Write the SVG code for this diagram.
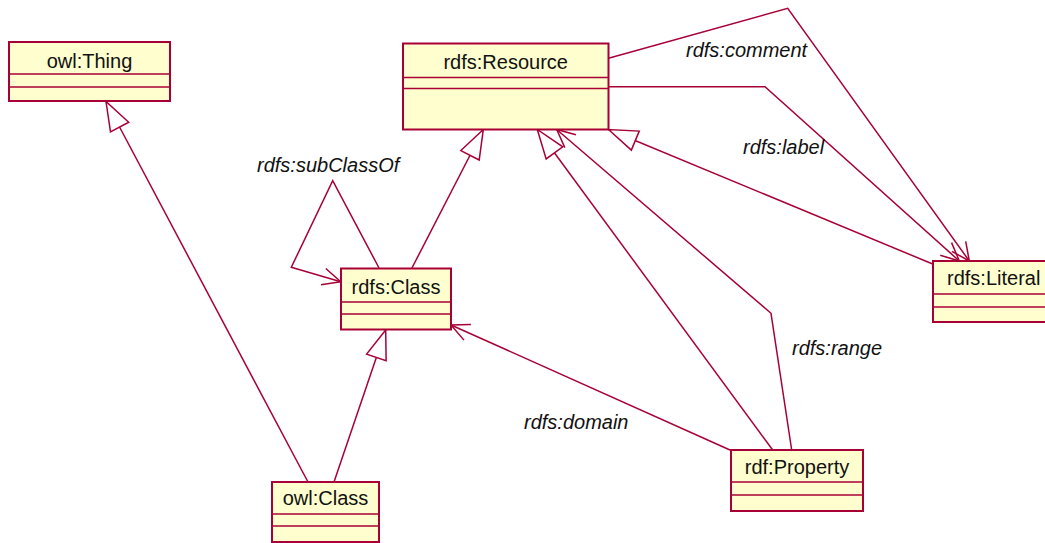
<svg xmlns="http://www.w3.org/2000/svg" width="1045" height="543" viewBox="0 0 1045 543">
  <style>
    .box { fill: #fefece; stroke: #a80036; stroke-width: 2; }
    .div { stroke: #a80036; stroke-width: 1.5; fill: none; }
    .name { font-family: "Liberation Sans", Arial, sans-serif; font-size: 20px; fill: #111; text-anchor: middle; }
    .lbl { font-family: "Liberation Sans", Arial, sans-serif; font-size: 20px; font-style: italic; fill: #111; }
    .edge { stroke: #a80036; stroke-width: 1.5; fill: none; }
  </style>
  <defs>
    <!-- hollow triangle for generalization -->
    <marker id="gen" viewBox="-32 -14 36 28" refX="0" refY="0" markerWidth="36" markerHeight="28" markerUnits="userSpaceOnUse" orient="auto">
      <path d="M0,0 L-29,-10.3 L-29,10.3 Z" fill="#ffffff" stroke="#a80036" stroke-width="1.5" stroke-linejoin="miter"/>
    </marker>
    <!-- open arrowhead for navigable associations -->
    <marker id="open" viewBox="-22 -12 26 24" refX="0" refY="0" markerWidth="26" markerHeight="24" markerUnits="userSpaceOnUse" orient="auto">
      <path d="M-18,-8.5 L0,0 L-18,8.5" fill="none" stroke="#a80036" stroke-width="1.5"/>
    </marker>
  </defs>

  <rect width="1045" height="543" fill="#ffffff"/>

  <g id="connectors">
    <!-- generalizations -->
    <line class="edge" x1="308" y1="482" x2="106" y2="101.5" marker-end="url(#gen)"/>
    <line class="edge" x1="334" y1="482" x2="385.7" y2="330" marker-end="url(#gen)"/>
    <line class="edge" x1="411.7" y1="268.5" x2="483.3" y2="129.5" marker-end="url(#gen)"/>
    <line class="edge" x1="772.7" y1="450" x2="537.3" y2="129.5" marker-end="url(#gen)"/>
    <line class="edge" x1="932.7" y1="264" x2="608.5" y2="129.5" marker-end="url(#gen)"/>
    <!-- associations -->
    <polyline class="edge" points="379.3,268.5 332.7,180.7 291.3,267.3 340.7,281.7" marker-end="url(#open)"/>
    <polyline class="edge" points="608.5,58.3 787.7,8.3 969.3,261" marker-end="url(#open)"/>
    <polyline class="edge" points="608.5,86.7 765,86.7 959.3,261" marker-end="url(#open)"/>
    <polyline class="edge" points="791.7,450 771,313.3 556.7,129.5" marker-end="url(#open)"/>
    <line class="edge" x1="730" y1="450" x2="451" y2="325" marker-end="url(#open)"/>
    <!-- association labels -->
    <text class="lbl" x="257" y="172">rdfs:subClassOf</text>
    <text class="lbl" x="686" y="57">rdfs:comment</text>
    <text class="lbl" x="743" y="154">rdfs:label</text>
    <text class="lbl" x="792" y="355">rdfs:range</text>
    <text class="lbl" x="524" y="429">rdfs:domain</text>
  </g>

  <g id="owl-thing">
    <rect class="box" x="9" y="42" width="161" height="59"/>
    <line class="div" x1="9" y1="74" x2="170" y2="74"/>
    <line class="div" x1="9" y1="87" x2="170" y2="87"/>
    <text class="name" x="89.5" y="67.5">owl:Thing</text>
  </g>

  <g id="rdfs-resource">
    <rect class="box" x="403" y="43.5" width="205.5" height="86"/>
    <line class="div" x1="403" y1="77.5" x2="608.5" y2="77.5"/>
    <line class="div" x1="403" y1="88.5" x2="608.5" y2="88.5"/>
    <text class="name" x="505.7" y="69">rdfs:Resource</text>
  </g>

  <g id="rdfs-class">
    <rect class="box" x="341" y="268.5" width="110" height="61"/>
    <line class="div" x1="341" y1="302" x2="451" y2="302"/>
    <line class="div" x1="341" y1="314" x2="451" y2="314"/>
    <text class="name" x="396" y="293.5">rdfs:Class</text>
  </g>

  <g id="rdfs-literal">
    <rect class="box" x="933" y="261" width="122" height="61"/>
    <line class="div" x1="933" y1="294" x2="1055" y2="294"/>
    <line class="div" x1="933" y1="307" x2="1055" y2="307"/>
    <text class="name" x="947" y="285" style="text-anchor:start">rdfs:Literal</text>
  </g>

  <g id="rdf-property">
    <rect class="box" x="731" y="450" width="132" height="61"/>
    <line class="div" x1="731" y1="482" x2="863" y2="482"/>
    <line class="div" x1="731" y1="495" x2="863" y2="495"/>
    <text class="name" x="797" y="474">rdf:Property</text>
  </g>

  <g id="owl-class">
    <rect class="box" x="272" y="482" width="107" height="60"/>
    <line class="div" x1="272" y1="514" x2="379" y2="514"/>
    <line class="div" x1="272" y1="526" x2="379" y2="526"/>
    <text class="name" x="325.5" y="505">owl:Class</text>
  </g>
</svg>
